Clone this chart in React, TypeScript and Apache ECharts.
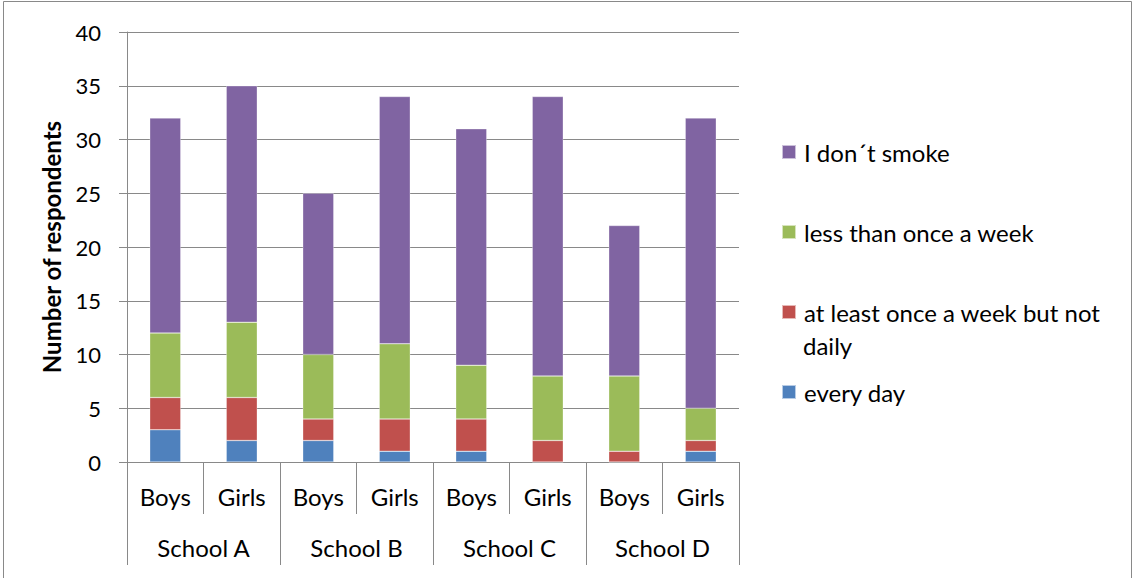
import React, { useEffect, useRef } from "react";
import * as echarts from "echarts";

const genders = ["Boys", "Girls", "Boys", "Girls", "Boys", "Girls", "Boys", "Girls"];
const schools = ["School A", "School B", "School C", "School D"];
const yTicks = { min: 0, max: 40, interval: 5 };

const everyDay = [3, 2, 2, 1, 1, 0, 0, 1];
const weeklyNotDaily = [3, 4, 2, 3, 3, 2, 1, 1];
const lessThanWeekly = [6, 7, 6, 7, 5, 6, 7, 3];
const dontSmoke = [20, 22, 15, 23, 22, 26, 14, 27];

const seriesNames = [
  "every day",
  "at least once a week but not daily",
  "less than once a week",
  "I don´t smoke",
];
const colors = ["#4F81BD", "#C0504D", "#9BBB59", "#8064A2"];
const seriesData = [everyDay, weeklyNotDaily, lessThanWeekly, dontSmoke];

const FONT = "Lato, 'Open Sans', sans-serif";
const GRAY = "#898989";

export default function App() {
  const ref = useRef<HTMLDivElement>(null);
  useEffect(() => {
    const chart = echarts.init(ref.current!, null, { renderer: "svg" });
    const legendTops = [135, 215, 295, 375];
    const legendOrder = [3, 2, 1, 0];
    chart.setOption({
      animation: false,
      textStyle: { fontFamily: FONT },
      grid: { left: 127, right: 397, top: 32, bottom: 116, containLabel: false },
      legend: legendOrder.map((si, i) => ({
        orient: "vertical",
        left: 776,
        top: legendTops[i],
        data: [seriesNames[si]],
        icon: "rect",
        itemWidth: 14,
        itemHeight: 14,
        itemGap: 8,
        selectedMode: false,
        formatter: (n: string) => (n === "at least once a week but not daily" ? "at least once a week but not" : n),
        textStyle: { fontSize: 24, color: "#000", fontFamily: FONT, padding: [0, 0, 0, 3] },
      })),
      graphic: [
        {
          type: "rect",
          shape: { x: 3.5, y: 1.5, width: 1128, height: 590 },
          style: { fill: "none", stroke: GRAY, lineWidth: 1 },
          silent: true,
        },
        {
          type: "text",
          left: 803,
          top: 333,
          style: { text: "daily", fontSize: 24, fill: "#000", fontFamily: FONT },
        },
      ],
      xAxis: [
        {
          type: "category",
          data: genders,
          position: "bottom",
          axisLine: { show: true, lineStyle: { color: GRAY, width: 1 } },
          axisTick: { show: true, length: 52, lineStyle: { color: GRAY } },
          axisLabel: { margin: 22, fontSize: 24, color: "#000", fontFamily: FONT },
          splitLine: { show: false },
        },
        {
          type: "category",
          data: schools,
          position: "bottom",
          offset: 0,
          axisLine: { show: false },
          axisTick: { show: true, length: 103, lineStyle: { color: GRAY } },
          axisLabel: { margin: 73, fontSize: 24, color: "#000", fontFamily: FONT },
          splitLine: { show: false },
        },
      ],
      yAxis: {
        type: "value",
        min: yTicks.min,
        max: yTicks.max,
        interval: yTicks.interval,
        name: "Number of respondents",
        nameLocation: "middle",
        nameRotate: 90,
        nameGap: 64,
        nameTextStyle: { fontSize: 24, fontWeight: "bold", color: "#000", fontFamily: FONT },
        axisLine: { show: true, lineStyle: { color: GRAY } },
        axisTick: { show: true, length: 8, lineStyle: { color: GRAY } },
        axisLabel: { margin: 26, fontSize: 22, color: "#000", fontFamily: FONT },
        splitLine: { show: true, lineStyle: { color: GRAY, width: 1 } },
      },
      series: seriesData.map((d, i) => ({
        name: seriesNames[i],
        type: "bar",
        stack: "total",
        xAxisIndex: 0,
        data: d,
        barWidth: 31,
        itemStyle: { color: colors[i], borderColor: "rgba(255,255,255,0.6)", borderWidth: 0.5 },
      })),
    });
    return () => chart.dispose();
  }, []);
  return <div ref={ref} style={{ width: 1136, height: 578, position: "absolute", left: 0, top: 0 }} />;
}
